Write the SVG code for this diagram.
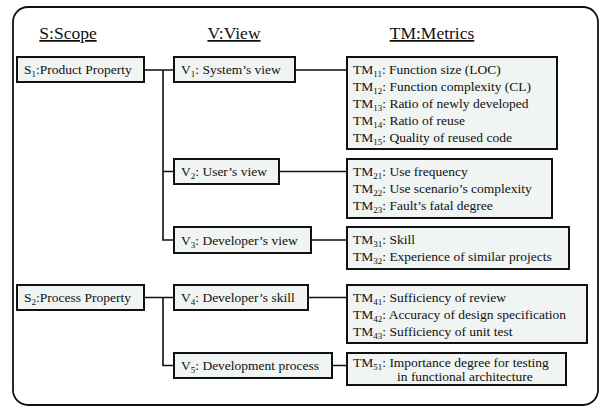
<svg xmlns="http://www.w3.org/2000/svg" width="599" height="408" viewBox="0 0 599 408">
  <style>
    text, tspan { font-family: 'Liberation Serif', 'Times New Roman', serif; }
    .hdr { font-size: 17.5px; text-decoration: underline; text-anchor: middle; }
    .lbl { font-size: 13.5px; }
    .sub { font-size: 9px; }
    .box { fill: #f0f4f2; stroke: #111; stroke-width: 2; }
    .wire { fill: none; stroke: #111; stroke-width: 1.6; }
    .frame { fill: #fff; stroke: #111; stroke-width: 1.8; }
  </style>

  <!-- outer frame -->
  <rect class="frame" x="13" y="7" width="585" height="398" rx="15" ry="15"/>

  <g font-family="'Liberation Serif', 'Times New Roman', serif" fill="#111">
  <!-- column headings -->
  <g id="headings">
    <text class="hdr" x="68" y="39">S:Scope</text>
    <text class="hdr" x="234" y="39">V:View</text>
    <text class="hdr" x="432" y="39">TM:Metrics</text>
  </g>

  <!-- connectors -->
  <g id="connectors">
    <path class="wire" d="M144 70 H174 M163 70 V240 H174 M163 171.5 H174"/>
    <path class="wire" d="M144 297.5 H174 M163 297.5 V365.5 H174"/>
    <path class="wire" d="M295 70 H347 M279 171.5 H347 M311 240 H347 M308 297.5 H347 M332 365.5 H347"/>
  </g>

  <!-- scope nodes -->
  <g id="s1">
    <rect class="box" x="17" y="57" width="127" height="25"/>
    <text class="lbl" x="24" y="74">S<tspan class="sub" dy="3">1</tspan><tspan dy="-3">:Product Property</tspan></text>
  </g>
  <g id="s2">
    <rect class="box" x="17" y="285" width="127" height="25"/>
    <text class="lbl" x="24" y="302">S<tspan class="sub" dy="3">2</tspan><tspan dy="-3">:Process Property</tspan></text>
  </g>

  <!-- view nodes -->
  <g id="v1">
    <rect class="box" x="174" y="57" width="121" height="25"/>
    <text class="lbl" x="181" y="74">V<tspan class="sub" dy="3">1</tspan><tspan dy="-3">: System’s view</tspan></text>
  </g>
  <g id="v2">
    <rect class="box" x="174" y="159" width="105" height="25"/>
    <text class="lbl" x="181" y="176">V<tspan class="sub" dy="3">2</tspan><tspan dy="-3">: User’s view</tspan></text>
  </g>
  <g id="v3">
    <rect class="box" x="174" y="227" width="137" height="26"/>
    <text class="lbl" x="181" y="244.5">V<tspan class="sub" dy="3">3</tspan><tspan dy="-3">: Developer’s view</tspan></text>
  </g>
  <g id="v4">
    <rect class="box" x="174" y="285" width="134" height="25"/>
    <text class="lbl" x="181" y="302">V<tspan class="sub" dy="3">4</tspan><tspan dy="-3">: Developer’s skill</tspan></text>
  </g>
  <g id="v5">
    <rect class="box" x="174" y="353" width="158" height="25"/>
    <text class="lbl" x="181" y="370">V<tspan class="sub" dy="3">5</tspan><tspan dy="-3">: Development process</tspan></text>
  </g>

  <!-- metric nodes -->
  <g id="tm1">
    <rect class="box" x="347" y="57" width="210" height="92"/>
    <text class="lbl" x="353" y="74">TM<tspan class="sub" dy="3">11</tspan><tspan dy="-3">: Function size (LOC)</tspan></text>
    <text class="lbl" x="353" y="91">TM<tspan class="sub" dy="3">12</tspan><tspan dy="-3">: Function complexity (CL)</tspan></text>
    <text class="lbl" x="353" y="108">TM<tspan class="sub" dy="3">13</tspan><tspan dy="-3">: Ratio of newly developed</tspan></text>
    <text class="lbl" x="353" y="125">TM<tspan class="sub" dy="3">14</tspan><tspan dy="-3">: Ratio of reuse</tspan></text>
    <text class="lbl" x="353" y="142">TM<tspan class="sub" dy="3">15</tspan><tspan dy="-3">: Quality of reused code</tspan></text>
  </g>
  <g id="tm2">
    <rect class="box" x="347" y="159" width="205" height="59"/>
    <text class="lbl" x="353" y="176">TM<tspan class="sub" dy="3">21</tspan><tspan dy="-3">: Use frequency</tspan></text>
    <text class="lbl" x="353" y="193">TM<tspan class="sub" dy="3">22</tspan><tspan dy="-3">: Use scenario’s complexity</tspan></text>
    <text class="lbl" x="353" y="210">TM<tspan class="sub" dy="3">23</tspan><tspan dy="-3">: Fault’s fatal degree</tspan></text>
  </g>
  <g id="tm3">
    <rect class="box" x="347" y="227" width="222" height="42"/>
    <text class="lbl" x="353" y="244">TM<tspan class="sub" dy="3">31</tspan><tspan dy="-3">: Skill</tspan></text>
    <text class="lbl" x="353" y="261">TM<tspan class="sub" dy="3">32</tspan><tspan dy="-3">: Experience of similar projects</tspan></text>
  </g>
  <g id="tm4">
    <rect class="box" x="347" y="285" width="240" height="58"/>
    <text class="lbl" x="353" y="302">TM<tspan class="sub" dy="3">41</tspan><tspan dy="-3">:  Sufficiency of review</tspan></text>
    <text class="lbl" x="353" y="319">TM<tspan class="sub" dy="3">42</tspan><tspan dy="-3">:  Accuracy of design specification</tspan></text>
    <text class="lbl" x="353" y="336">TM<tspan class="sub" dy="3">43</tspan><tspan dy="-3">:  Sufficiency of unit test</tspan></text>
  </g>
  <g id="tm5">
    <rect class="box" x="347" y="353" width="219" height="32"/>
    <text class="lbl" x="353" y="367">TM<tspan class="sub" dy="2.5">51</tspan><tspan dy="-2.5">: Importance degree for testing</tspan></text>
    <text class="lbl" x="397" y="381">in functional architecture</text>
  </g>
  </g>
</svg>
